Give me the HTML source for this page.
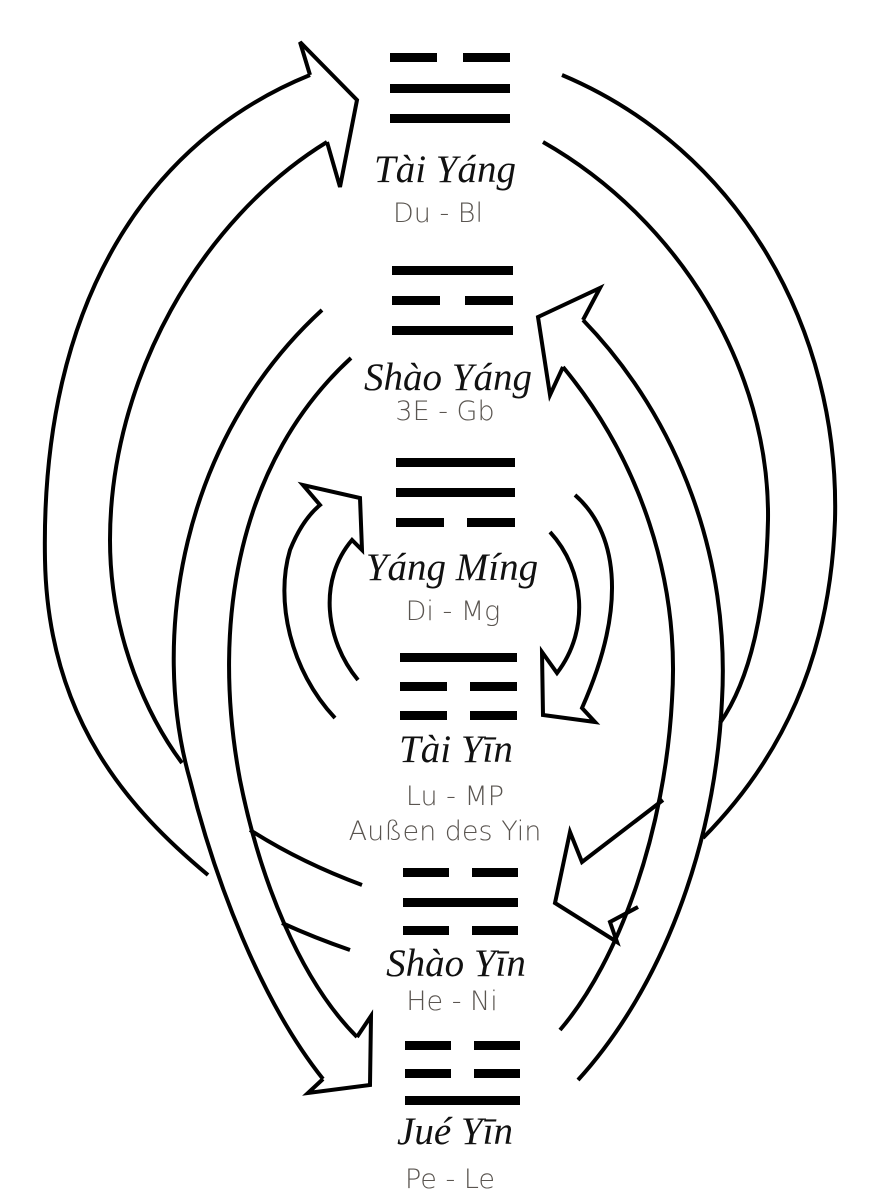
<!DOCTYPE html>
<html><head><meta charset="utf-8"><style>
html,body{margin:0;padding:0;background:#fff}
svg{display:block}
.t{font-family:"Liberation Serif",serif;font-style:italic;font-size:39px;fill:#111;text-anchor:middle}
.h{font-family:"DejaVu Sans","Liberation Sans",sans-serif;font-size:27px;fill:#5a5550;text-anchor:middle;font-weight:300}
</style></head><body>
<svg width="884" height="1200" viewBox="0 0 884 1200" xmlns="http://www.w3.org/2000/svg">
<g fill="none" stroke="#000" stroke-width="4" stroke-linejoin="miter" stroke-linecap="butt">
<path d="M310,75 C150,140 40,300 45,560 C48,720 130,810 208,875"/>
<path d="M327,142 C200,220 110,380 110,540 C110,640 150,720 182,763"/>
<path d="M310,75 L300,42 L357,100 L340,187 L327,142"/>
<path d="M250,830 Q300,862 362,885"/>
<path d="M282,923 Q315,938 350,950"/>
<path d="M322,310 C180,440 150,640 190,780 C215,880 260,1000 323,1079"/>
<path d="M351,358 C240,460 210,620 240,780 C260,880 300,980 357,1037"/>
<path d="M323,1079 L308,1093 L370,1085 L371,1016 L357,1037"/>
<path d="M583,320 C680,420 730,560 722,700 C715,850 660,990 578,1080"/>
<path d="M563,367 C640,460 680,580 672,700 C665,830 620,960 560,1030"/>
<path d="M583,320 L600,288 L538,317 L550,395 L563,367"/>
<path d="M562,75 C740,150 840,330 835,520 C830,660 780,760 703,838"/>
<path d="M543,142 C680,220 770,370 768,520 C766,610 750,680 720,723"/>
<path d="M663,800 L582,862 L570,832 L555,903 L617,942 L610,922 L638,907"/>
<path d="M335,718 C290,670 275,600 290,550 C298,530 308,515 320,505 L303,485 L360,498 L362,550 L352,540 C318,580 325,640 358,680"/>
<path d="M575,495 C615,530 630,600 582,708 L595,722 L543,715 L542,652 L557,673 C590,630 585,570 550,532"/>
</g>
<g fill="#000">
<rect x="390" y="53" width="47" height="9"/><rect x="463" y="53" width="47" height="9"/>
<rect x="390" y="84" width="120" height="9"/>
<rect x="390" y="114" width="120" height="9"/>
<rect x="392" y="266" width="121" height="9"/>
<rect x="392" y="296" width="48" height="9"/><rect x="465" y="296" width="48" height="9"/>
<rect x="392" y="326" width="121" height="9"/>
<rect x="396" y="458" width="119" height="9"/>
<rect x="396" y="488" width="119" height="9"/>
<rect x="396" y="518" width="48" height="9"/><rect x="467" y="518" width="48" height="9"/>
<rect x="400" y="653" width="117" height="9"/>
<rect x="400" y="682" width="47" height="9"/><rect x="470" y="682" width="47" height="9"/>
<rect x="400" y="711" width="47" height="9"/><rect x="470" y="711" width="47" height="9"/>
<rect x="403" y="868" width="46" height="9"/><rect x="472" y="868" width="46" height="9"/>
<rect x="403" y="898" width="115" height="9"/>
<rect x="403" y="926" width="46" height="9"/><rect x="472" y="926" width="46" height="9"/>
<rect x="405" y="1041" width="46" height="9"/><rect x="474" y="1041" width="46" height="9"/>
<rect x="405" y="1069" width="46" height="9"/><rect x="474" y="1069" width="46" height="9"/>
<rect x="405" y="1096" width="115" height="9"/>
</g>
<text class="t" x="445" y="182">Tài Yáng</text>
<text class="h" x="438" y="222">Du - Bl</text>
<text class="t" x="448" y="390">Shào Yáng</text>
<text class="h" x="445" y="420">3E - Gb</text>
<text class="t" x="452" y="580">Yáng Míng</text>
<text class="h" x="453" y="620">Di - Mg</text>
<text class="t" x="456" y="762">Tài Yīn</text>
<text class="h" x="455" y="805">Lu - MP</text>
<text class="h" x="445" y="840">Außen des Yin</text>
<text class="t" x="456" y="976">Shào Yīn</text>
<text class="h" x="452" y="1010">He - Ni</text>
<text class="t" x="455" y="1144">Jué Yīn</text>
<text class="h" x="450" y="1188">Pe - Le</text>
</svg>
</body></html>
